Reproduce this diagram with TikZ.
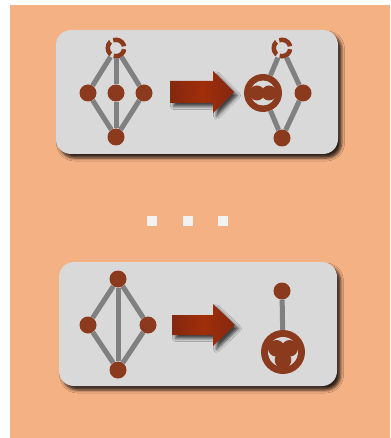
\documentclass[tikz,border=0pt]{standalone}
\usetikzlibrary{shadows.blur}

\definecolor{bgorange}{RGB}{244,177,132}
\definecolor{panelgray}{RGB}{217,217,217}
\definecolor{nodebrown}{RGB}{139,58,30}
\definecolor{linkgray}{RGB}{128,128,128}
\definecolor{arrowred}{RGB}{160,46,10}
\definecolor{arrowdark}{RGB}{132,40,16}
\definecolor{dotwhite}{RGB}{242,242,242}

\tikzset{
  vtx/.style={circle, fill=nodebrown, inner sep=0pt, minimum size=17pt},
  ringvtx/.style={circle, draw=nodebrown, line width=4.5pt, inner sep=0pt,
    minimum size=16.5pt, dash pattern=on 14pt off 3.3pt, dash phase=15.6pt},
  link/.style={draw=linkgray, line width=5pt},
  panel/.style={fill=panelgray, rounded corners=15pt,
    blur shadow={shadow xshift=3.5pt, shadow yshift=-4pt,
      shadow blur radius=3pt, shadow opacity=80}},
  blockarrow/.style={left color=arrowdark, right color=arrowdark,
    middle color=arrowred,
    blur shadow={shadow xshift=3.5pt, shadow yshift=-3.5pt,
      shadow blur radius=3pt, shadow opacity=70}},
  dotbox/.style={fill=dotwhite, inner sep=0pt, minimum size=10pt}
}

\begin{document}
\begin{tikzpicture}[x=1pt, y=-1pt]
  \useasboundingbox (0,0) rectangle (390,438);
  \fill[bgorange] (10,5) rectangle (390,438);

  \path[panel] (56,30) rectangle (338,154);
  \path[panel] (59,262) rectangle (337,386);

  % upper row: ring-topped diamond
  \node[ringvtx] (r1) at (116,48) {};
  \node[vtx] (a1) at (88,93) {};
  \node[vtx] (b1) at (116,93) {};
  \node[vtx] (c1) at (144,93) {};
  \node[vtx] (d1) at (116,137) {};
  \draw[link] (r1) -- (a1);
  \draw[link] (r1) -- (b1);
  \draw[link] (r1) -- (c1);
  \draw[link] (a1) -- (d1);
  \draw[link] (b1) -- (d1);
  \draw[link] (c1) -- (d1);

  \path[blockarrow] (170,92) ++(0,-11) -- ++(43,0) -- ++(0,-10) -- ++(21,21)
    -- ++(-21,21) -- ++(0,-10) -- ++(-43,0) -- cycle;

  % a1 and b1 merged
  \node[ringvtx] (r2) at (282,48) {};
  \node[vtx, minimum size=38pt] (m1) at (263,93) {};
  \fill[panelgray] (m1) circle (12.5);
  \fill[nodebrown] ([xshift=-6pt]m1.center) circle (7.5);
  \fill[nodebrown] ([xshift=6pt]m1.center) circle (7.5);
  \node[vtx] (c2) at (303,93) {};
  \node[vtx] (d2) at (282,138) {};
  \draw[link] (r2) -- (m1);
  \draw[link] (r2) -- (c2);
  \draw[link] (m1) -- (d2);
  \draw[link] (c2) -- (d2);

  % dots in between
  \foreach \x [count=\i] in {152,188,223}
    \node[dotbox] (dot\i) at (\x,221) {};

  % lower row: plain diamond with a chord
  \node[vtx] (t3) at (118,279) {};
  \node[vtx] (l3) at (88,325) {};
  \node[vtx] (q3) at (148,325) {};
  \node[vtx] (u3) at (118,370) {};
  \draw[link] (t3) -- (l3);
  \draw[link] (t3) -- (q3);
  \draw[link] (t3) -- (u3);
  \draw[link] (l3) -- (u3);
  \draw[link] (q3) -- (u3);

  \path[blockarrow] (172,325) ++(0,-10) -- ++(41,0) -- ++(0,-11) -- ++(22,21)
    -- ++(-22,21) -- ++(0,-11) -- ++(-41,0) -- cycle;

  % three merged into one
  \node[vtx] (t4) at (282,291) {};
  \node[vtx, minimum size=44pt] (m2) at (283,352) {};
  \fill[panelgray] (m2) circle (15);
  \fill[nodebrown] ([xshift=-6.7pt, yshift=3.7pt]m2.center) circle (8.3);
  \fill[nodebrown] ([xshift=6.7pt, yshift=3.7pt]m2.center) circle (8.3);
  \fill[nodebrown] ([yshift=-8pt]m2.center) circle (8.3);
  \draw[link] (t4) -- (m2);
\end{tikzpicture}
\end{document}
